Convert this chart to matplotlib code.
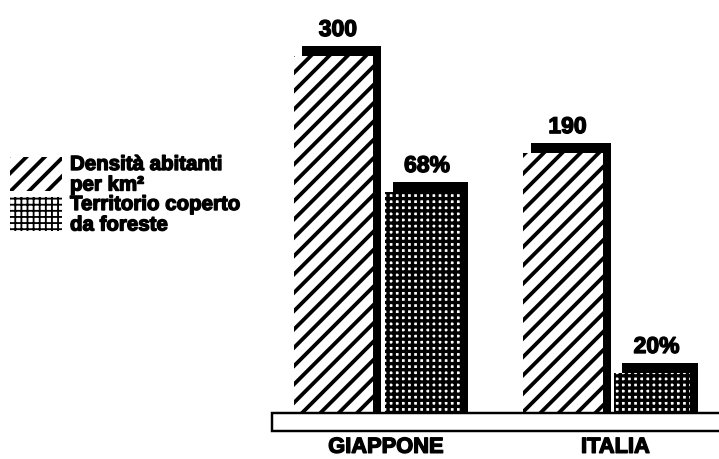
#!/usr/bin/env python3
'''
Densita di popolazione e copertura forestale: Giappone e Italia
'''
import matplotlib.pyplot as plt
import matplotlib.patheffects as pe
import numpy as np
from matplotlib.patches import Rectangle
from matplotlib.transforms import ScaledTranslation

countries = ['GIAPPONE', 'ITALIA']
series_names = [['Densità abitanti', 'per km²'],
                ['Territorio coperto', 'da foreste']]
series_hatches = ['//', '+++']
density_labels = ['300', '190']
forest_labels = ['68%', '20%']
# bar heights as drawn in the original (not to scale), Japan density = 100
density_heights = [100, 72.8]
forest_heights = [61.9, 11.2]

DPI = 110
FONT = 'Liberation Sans'
INK = 'black'
HEAVY = [pe.withStroke(linewidth=0.9, foreground=INK)]
DIAG_LW = 2.5
GRID_LW = 2.2


def px(n):
    ''' pixels -> points '''
    return n * 72.0 / DPI


def hatch_lw(patch, lw):
    if hasattr(patch, 'set_hatch_linewidth'):
        patch.set_hatch_linewidth(lw)


def draw_legend(fig):
    ''' hand made legend, laid out in figure pixels '''
    lax = fig.add_axes([0, 0, 1, 1], zorder=5)
    lax.set_xlim(0, 719)
    lax.set_ylim(459, 0)
    lax.axis('off')
    lax.patch.set_alpha(0)
    for i, (lines, hatch) in enumerate(zip(series_names, series_hatches)):
        top = 157 + i * 40
        box = Rectangle((10, top), 52, 34, facecolor='white', edgecolor=INK,
                        hatch=hatch, lw=0)
        hatch_lw(box, DIAG_LW if hatch == '//' else 1.2)
        lax.add_patch(box)
        for j, line in enumerate(lines):
            lax.text(70, top + 13 + j * 20.5, line, fontsize=13.4,
                     fontweight='bold', va='baseline', ha='left',
                     path_effects=HEAVY)


def main():
    plt.rcParams['font.family'] = [FONT, 'DejaVu Sans']
    plt.rcParams['font.weight'] = 'bold'
    plt.rcParams['hatch.linewidth'] = GRID_LW

    fig = plt.figure(figsize=(719 / DPI, 459 / DPI), dpi=DPI)
    fig.set_facecolor('white')
    ax = fig.add_axes([0, 0, 1, 1])
    ax.set_xlim(-1.647, 1.486)
    ax.set_ylim(-12.9, 115.7)
    ax.axis('off')

    x = np.arange(len(countries))
    x_dens = x - 0.194
    x_for = x + 0.194
    w_dens = 0.345
    w_for = 0.327

    # black "shadow" behind every bar, shifted up and right,
    # started below the baseline so it still reaches the base slab
    shadow = ax.transData + ScaledTranslation(8 / DPI, 10 / DPI,
                                              fig.dpi_scale_trans)
    sunk = 4.0
    for xs, hs, w in ((x_dens, density_heights, w_dens),
                      (x_for, forest_heights, w_for)):
        hs = np.asarray(hs) + sunk
        for r in ax.bar(xs, hs, w, bottom=-sunk, color=INK, lw=0, zorder=1):
            r.set_transform(shadow)

    bars = ax.bar(x_dens, density_heights, w_dens, facecolor='white',
                  edgecolor=INK, hatch=series_hatches[0], lw=0, zorder=2)
    for r in bars:
        hatch_lw(r, DIAG_LW)
    bars = ax.bar(x_for, forest_heights, w_for, facecolor='white',
                  edgecolor=INK, hatch=series_hatches[1], lw=0, zorder=2)
    for r in bars:
        hatch_lw(r, GRID_LW)

    # value labels
    for xs, hs, labels in ((x_dens, density_heights, density_labels),
                           (x_for, forest_heights, forest_labels)):
        for xi, h, lab in zip(xs, hs, labels):
            ax.annotate(lab, xy=(xi, h), xytext=(px(4.5), px(20)),
                        textcoords='offset points', ha='center',
                        va='baseline', fontsize=15, fontweight='bold',
                        path_effects=HEAVY)

    # base slab
    base_h = 5.0
    ax.add_patch(Rectangle((-0.462, -base_h), 3, base_h, facecolor='white',
                           edgecolor=INK, lw=1.6, zorder=3))

    for xi, name in zip(x, countries):
        ax.annotate(name, xy=(xi, -base_h), xytext=(px(8), px(-6)),
                    textcoords='offset points', ha='center', va='top',
                    fontsize=14.3, fontweight='bold', path_effects=HEAVY)

    draw_legend(fig)

    fig.savefig('out.png', dpi=DPI, facecolor='white')


if __name__ == '__main__':
    main()
